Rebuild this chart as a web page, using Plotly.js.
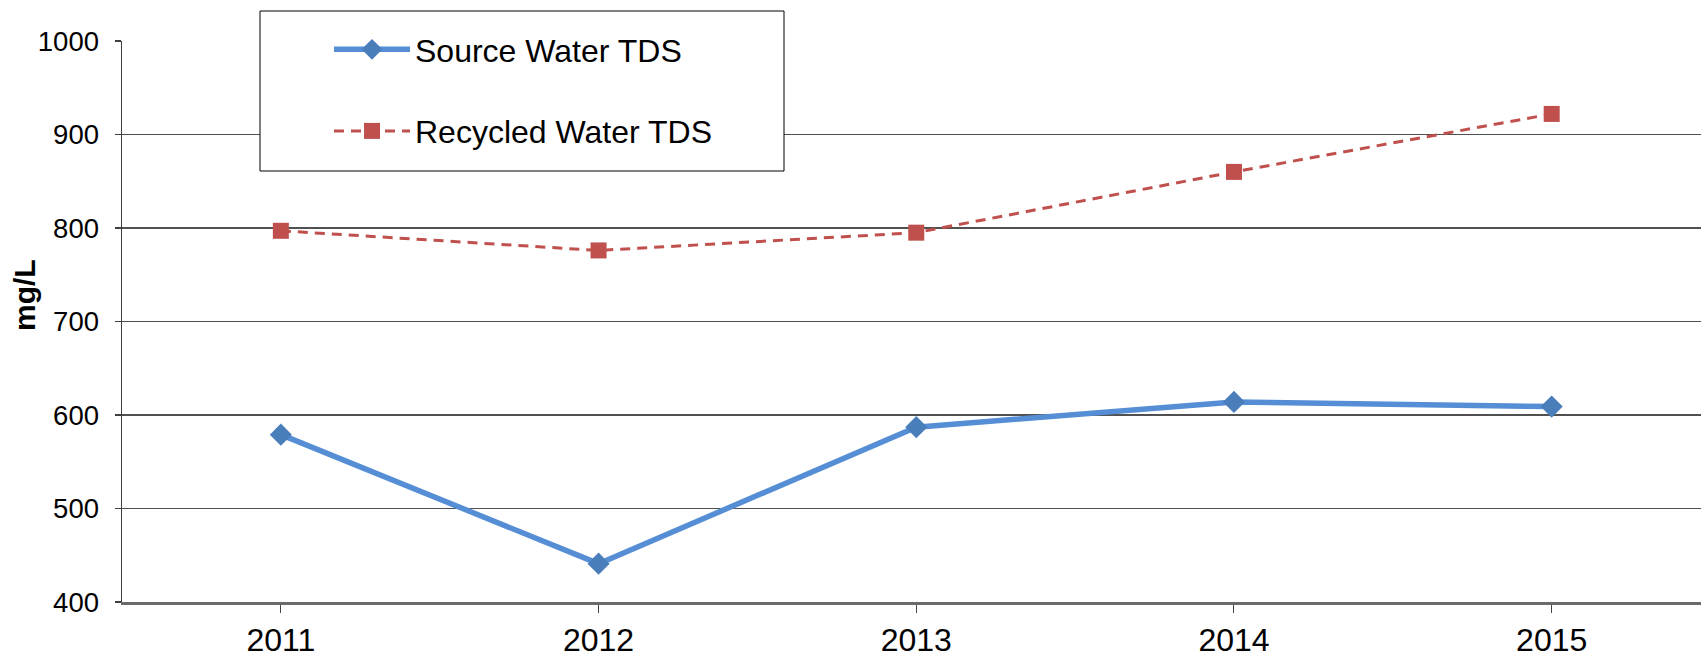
<!DOCTYPE html>
<html>
<head>
<meta charset="utf-8">
<script src="https://cdn.plot.ly/plotly-3.0.1.min.js"></script>
<style>
html,body{margin:0;padding:0;background:#fff;}
#chart{width:1701px;height:658px;}
</style>
</head>
<body>
<div id="chart"></div>
<script>
var years = ['2011', '2012', '2013', '2014', '2015'];
var sourceTDS = [579, 441, 587, 614, 609];
var recycledTDS = [797, 776, 795, 860, 922];
var yTicks = [400, 500, 600, 700, 800, 900, 1000];
var yTitle = 'mg/L';

var traces = [
  {
    x: years, y: sourceTDS, type: 'scatter', mode: 'lines+markers',
    name: 'Source Water TDS', legendgroup: 'a',
    line: {color: '#558ED5', width: 5.5},
    marker: {symbol: 'diamond', size: 17, color: '#4A7EBB'}
  },
  {
    x: years, y: recycledTDS, type: 'scatter', mode: 'lines+markers',
    name: 'Recycled Water TDS', legendgroup: 'b',
    line: {color: '#C0504D', width: 3, dash: '10px,7px'},
    marker: {symbol: 'square', size: 16, color: '#C0504D'}
  }
];

var L = 122, T = 41, B = 56, W = 1701, H = 658;
var pw = W - L, ph = H - T - B;
function px(x){ return (x - L) / pw; }
function py(y){ return (H - B - y) / ph; }

var layout = {
  width: W, height: H,
  margin: {l: L, r: 0, t: T, b: B, pad: 0},
  paper_bgcolor: '#ffffff', plot_bgcolor: '#ffffff',
  font: {family: '"Liberation Sans", Arial, sans-serif', color: '#000000'},
  showlegend: true,
  legend: {
    x: px(329), y: py(22), xanchor: 'left', yanchor: 'top',
    bgcolor: 'rgba(0,0,0,0)', borderwidth: 0,
    font: {size: 32, color: '#000000'},
    itemwidth: 76, tracegroupgap: 37, traceorder: 'grouped'
  },
  xaxis: {
    type: 'category', range: [-0.5, 4.47],
    showgrid: false, zeroline: false,
    showline: true, linecolor: '#6a6a6a', linewidth: 2.5,
    ticks: 'outside', ticklen: 8, tickwidth: 1, tickcolor: '#444444',
    tickfont: {size: 32, color: '#000000'},
    ticklabelstandoff: 0,
    fixedrange: true
  },
  yaxis: {
    range: [400, 1000], tickvals: yTicks, ticktext: yTicks.map(String),
    showgrid: true, gridcolor: '#505050', gridwidth: 1.2,
    zeroline: false,
    showline: true, linecolor: '#404040', linewidth: 1.5,
    ticks: 'outside', ticklen: 6, tickwidth: 1.2, tickcolor: '#404040',
    tickfont: {size: 27.5, color: '#000000'},
    ticklabelstandoff: 10,
    automargin: false,
    fixedrange: true
  },
  annotations: [
    {
      text: yTitle, xref: 'paper', yref: 'paper',
      x: px(24), y: py(295), xanchor: 'center', yanchor: 'middle',
      textangle: -90, showarrow: false,
      font: {size: 30, color: '#000000', family: '"Liberation Sans", Arial, sans-serif', weight: 'bold'}
    }
  ],
  shapes: [
    {
      type: 'rect', xref: 'paper', yref: 'paper', layer: 'above',
      x0: px(260), x1: px(784), y0: py(171), y1: py(11),
      line: {color: '#000000', width: 1}, fillcolor: '#ffffff'
    }
  ]
};

Plotly.newPlot('chart', traces, layout, {displayModeBar: false, staticPlot: true});
</script>
</body>
</html>
